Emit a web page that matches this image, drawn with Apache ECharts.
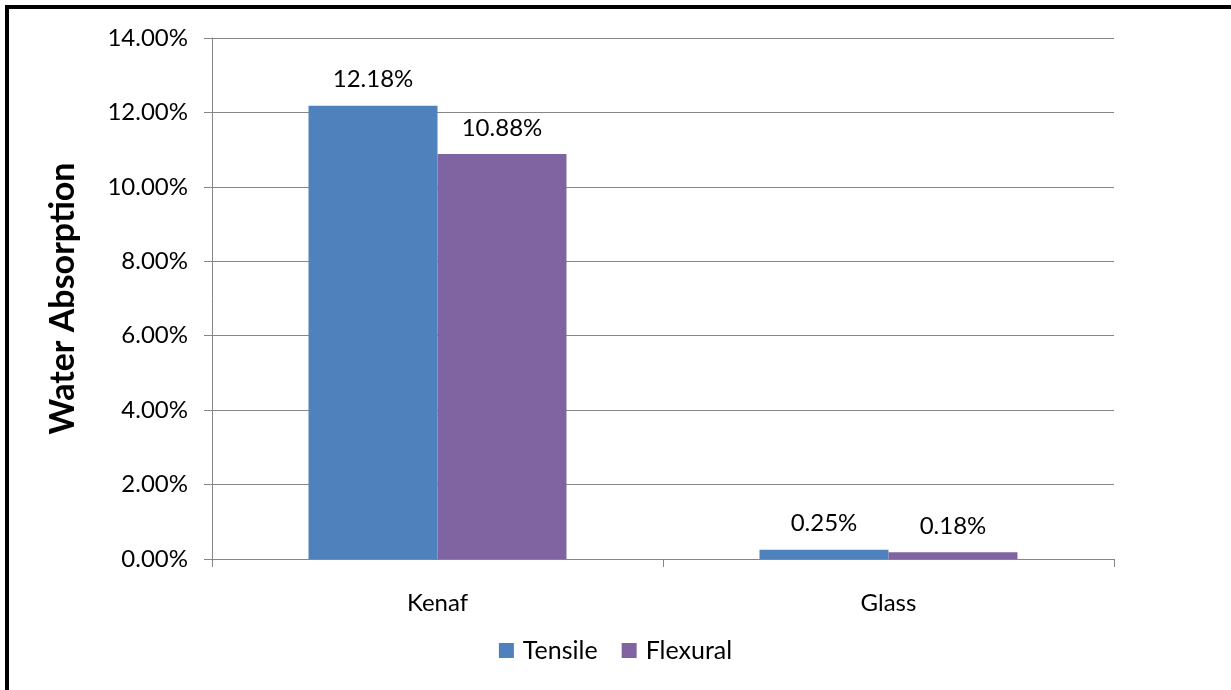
<!DOCTYPE html>
<html>
<head>
<meta charset="utf-8">
<script src="https://cdn.jsdelivr.net/npm/echarts@6/dist/echarts.min.js"></script>
<style>
  html, body { margin: 0; padding: 0; background: #fff; }
  #frame { position: absolute; left: 5px; top: 5px; width: 1226px; height: 685px;
           border-left: 4px solid #000; border-top: 4px solid #000; box-sizing: border-box; }
  #main { position: absolute; left: 0; top: 0; width: 1231px; height: 690px; }
</style>
</head>
<body>
<div id="main"></div>
<div id="frame"></div>
<script>
var categories = ['Kenaf', 'Glass'];
var tensile = [12.18, 0.25];
var flexural = [10.88, 0.18];

var font = 'Lato, "Open Sans", sans-serif';
var chart = echarts.init(document.getElementById('main'));

var option = {
    animation: false,
    textStyle: { fontFamily: font },
    grid: { left: 212, right: 117, top: 38, bottom: 131 },
    legend: {
        bottom: 22,
        left: 'center',
        itemWidth: 15,
        itemHeight: 15,
        itemGap: 24,
        icon: 'rect',
        textStyle: { fontSize: 25, color: '#000', fontFamily: font, padding: [0, 0, 0, 4] },
        data: ['Tensile', 'Flexural']
    },
    xAxis: {
        type: 'category',
        data: categories,
        axisLine: { lineStyle: { color: '#868686', width: 1 } },
        axisTick: { show: true, length: 8, lineStyle: { color: '#868686' } },
        axisLabel: { fontSize: 24, color: '#000', margin: 32, fontFamily: font }
    },
    yAxis: {
        type: 'value',
        min: 0,
        max: 14,
        interval: 2,
        name: 'Water Absorption',
        nameLocation: 'middle',
        nameGap: 132,
        nameRotate: 90,
        nameTextStyle: { fontSize: 34, fontWeight: 'bold', color: '#000', fontFamily: font },
        axisLine: { show: true, lineStyle: { color: '#868686', width: 1 } },
        axisTick: { show: true, length: 8, inside: false, lineStyle: { color: '#868686' } },
        splitLine: { lineStyle: { color: '#868686', width: 1 } },
        axisLabel: {
            fontSize: 24, color: '#000', margin: 24, fontFamily: font,
            formatter: function (v) { return v.toFixed(2) + '%'; }
        }
    },
    series: [
        {
            name: 'Tensile',
            type: 'bar',
            data: tensile,
            barGap: '0%',
            barCategoryGap: '42.8%',
            itemStyle: { color: '#4F81BD' },
            label: {
                show: true, position: 'top', distance: 14, fontSize: 24, color: '#000', fontFamily: font,
                formatter: function (p) { return p.value.toFixed(2) + '%'; }
            }
        },
        {
            name: 'Flexural',
            type: 'bar',
            data: flexural,
            itemStyle: { color: '#8064A2' },
            label: {
                show: true, position: 'top', distance: 14, fontSize: 24, color: '#000', fontFamily: font,
                formatter: function (p) { return p.value.toFixed(2) + '%'; }
            }
        }
    ]
};

chart.setOption(option);
</script>
</body>
</html>
